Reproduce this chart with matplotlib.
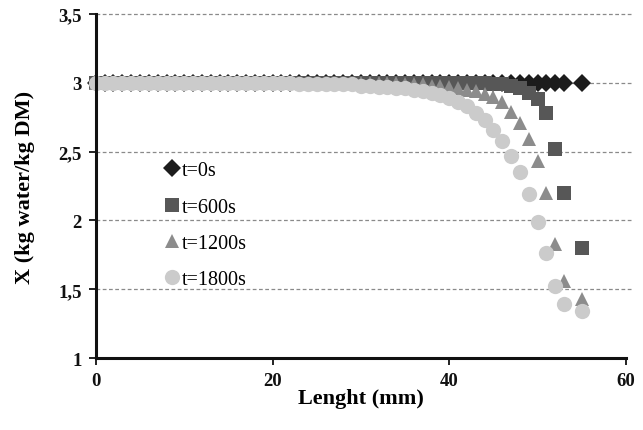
import numpy as np
import matplotlib
matplotlib.use("Agg")
import matplotlib.pyplot as plt

plt.rcParams['font.family'] = ['Liberation Serif', 'DejaVu Serif']

# node positions along the sample (mm)
length = [0, 1, 2, 3, 4, 5, 6, 7, 8, 9,
          10, 11, 12, 13, 14, 15, 16, 17, 18, 19,
          20, 21, 22, 23, 24, 25, 26, 27, 28, 29,
          30, 31, 32, 33, 34, 35, 36, 37, 38, 39,
          40, 41, 42, 43, 44, 45, 46, 47, 48, 49,
          50, 51, 52, 53, 55]

# moisture content X (kg water / kg DM) at each time
x_t0 = [3.00, 3.00, 3.00, 3.00, 3.00, 3.00, 3.00, 3.00, 3.00, 3.00,
        3.00, 3.00, 3.00, 3.00, 3.00, 3.00, 3.00, 3.00, 3.00, 3.00,
        3.00, 3.00, 3.00, 3.00, 3.00, 3.00, 3.00, 3.00, 3.00, 3.00,
        3.00, 3.00, 3.00, 3.00, 3.00, 3.00, 3.00, 3.00, 3.00, 3.00,
        3.00, 3.00, 3.00, 3.00, 3.00, 3.00, 3.00, 3.00, 3.00, 3.00,
        3.00, 3.00, 3.00, 3.00, 3.00]

x_t600 = [3.00, 3.00, 3.00, 3.00, 3.00, 3.00, 3.00, 3.00, 3.00, 3.00,
          3.00, 3.00, 3.00, 3.00, 3.00, 3.00, 3.00, 3.00, 3.00, 3.00,
          3.00, 3.00, 3.00, 3.00, 3.00, 3.00, 3.00, 3.00, 3.00, 3.00,
          3.00, 3.00, 3.00, 3.00, 3.00, 3.00, 3.00, 3.00, 3.00, 3.00,
          3.00, 3.00, 3.00, 3.00, 3.00, 2.99, 2.99, 2.98, 2.96, 2.93,
          2.88, 2.78, 2.52, 2.20, 1.80]

x_t1200 = [3.00, 3.00, 3.00, 3.00, 3.00, 3.00, 3.00, 3.00, 3.00, 3.00,
           3.00, 3.00, 3.00, 3.00, 3.00, 3.00, 3.00, 3.00, 3.00, 3.00,
           3.00, 3.00, 3.00, 3.00, 3.00, 3.00, 3.00, 3.00, 3.00, 3.00,
           3.00, 3.00, 3.00, 3.00, 3.00, 2.99, 2.99, 2.99, 2.98, 2.98,
           2.97, 2.96, 2.95, 2.94, 2.92, 2.90, 2.86, 2.79, 2.71, 2.59,
           2.43, 2.20, 1.83, 1.56, 1.43]

x_t1800 = [3.00, 3.00, 3.00, 3.00, 3.00, 3.00, 3.00, 3.00, 3.00, 3.00,
           3.00, 3.00, 3.00, 3.00, 3.00, 3.00, 3.00, 3.00, 3.00, 3.00,
           3.00, 3.00, 3.00, 2.99, 2.99, 2.99, 2.99, 2.99, 2.99, 2.99,
           2.98, 2.98, 2.97, 2.97, 2.96, 2.96, 2.95, 2.94, 2.93, 2.91,
           2.89, 2.86, 2.83, 2.78, 2.73, 2.66, 2.58, 2.47, 2.35, 2.19,
           1.99, 1.76, 1.52, 1.39, 1.34]

y_ticks = [1, 1.5, 2, 2.5, 3, 3.5]
y_ticklabels = ['1', '1,5', '2', '2,5', '3', '3,5']
x_ticks = [0, 20, 40, 60]

fig = plt.figure(figsize=(6.43, 4.31), dpi=100)
ax = fig.add_axes([0.149, 0.167, 0.8246, 0.798])

# dashed horizontal guides, running a little past the last tick
for yv in y_ticks[1:]:
    ax.axhline(yv, xmin=0, xmax=1.012, color='#8a8a8a', lw=0.9,
               ls=(0, (3, 2)), clip_on=False, zorder=1)

ax.plot(length, x_t0, ls='none', marker='D', ms=9.5, color='#1c1c1c',
        mew=0, clip_on=False, zorder=3, label='t=0s')
ax.plot(length, x_t600, ls='none', marker='s', ms=10.5, color='#575757',
        mew=0, clip_on=False, zorder=4, label='t=600s')
ax.plot(length, x_t1200, ls='none', marker='^', ms=10.5, color='#8c8c8c',
        mew=0, clip_on=False, zorder=5, label='t=1200s')
ax.plot(length, x_t1800, ls='none', marker='o', ms=11, color='#cbcbcb',
        mew=0, clip_on=False, zorder=6, label='t=1800s')

ax.set_xlim(0, 60)
ax.set_ylim(1, 3.5)
ax.set_xticks(x_ticks)
ax.set_yticks(y_ticks)
ax.set_yticklabels(y_ticklabels)

for side in ['top', 'right']:
    ax.spines[side].set_visible(False)
for side in ['left', 'bottom']:
    ax.spines[side].set_linewidth(2.2)
    ax.spines[side].set_color('#111111')
    ax.spines[side].set_zorder(7)

ax.tick_params(axis='both', direction='out', length=5, width=1.3,
               colors='#111111', labelsize=13.5, pad=5)
for lbl in ax.get_xticklabels() + ax.get_yticklabels():
    lbl.set_fontweight('bold')

ax.set_xlabel('Lenght (mm)', fontsize=16, fontweight='bold', labelpad=-1)
ax.set_ylabel('X (kg water/kg DM)', fontsize=16, fontweight='bold', labelpad=17)

ax.legend(loc='upper left', bbox_to_anchor=(0.13, 0.572), frameon=False,
          fontsize=14.5, handlelength=0.7, handletextpad=0.15,
          labelspacing=0.85, borderpad=0, borderaxespad=0)

fig.savefig('out.png', dpi=100)
